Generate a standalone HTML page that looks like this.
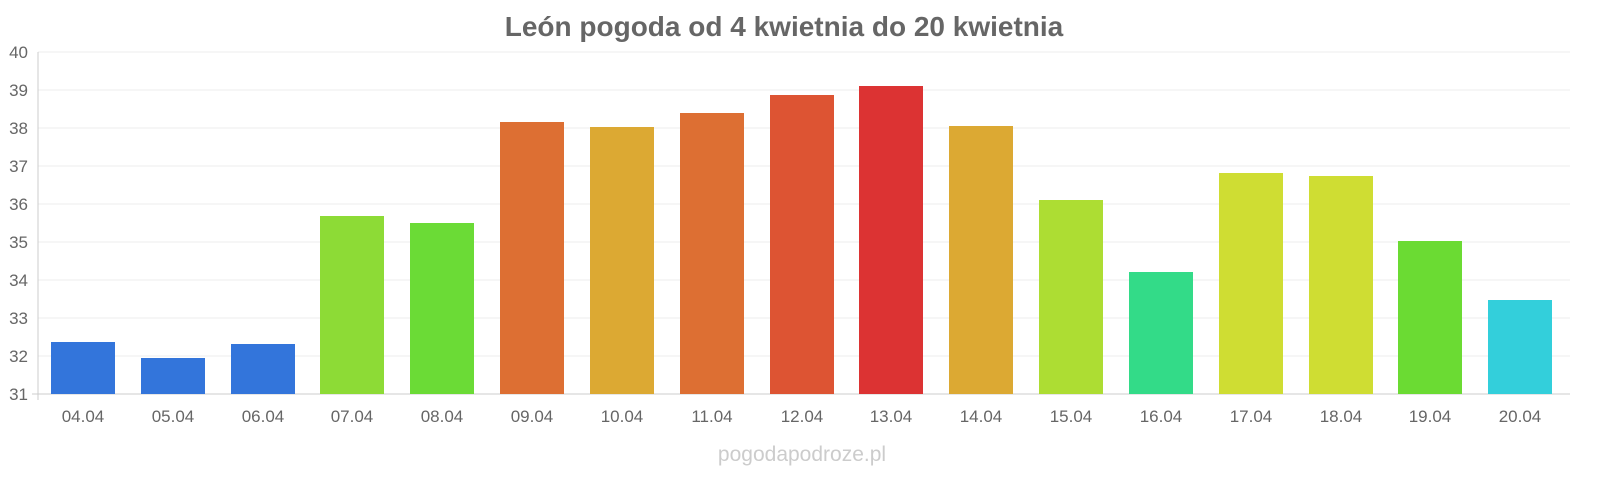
<!DOCTYPE html>
<html><head><meta charset="utf-8"><style>body{margin:0;background:#fff}svg{display:block}</style></head><body>
<svg width="1600" height="480" xmlns="http://www.w3.org/2000/svg" font-family="Liberation Sans, sans-serif">
<text x="784" y="36" text-anchor="middle" font-size="28" font-weight="bold" fill="#666">León pogoda od 4 kwietnia do 20 kwietnia</text>
<g stroke="#eee" stroke-width="1">
<line x1="38" x2="1570" y1="52" y2="52"/><line x1="38" x2="1570" y1="90" y2="90"/><line x1="38" x2="1570" y1="128" y2="128"/><line x1="38" x2="1570" y1="166" y2="166"/><line x1="38" x2="1570" y1="204" y2="204"/><line x1="38" x2="1570" y1="242" y2="242"/><line x1="38" x2="1570" y1="280" y2="280"/><line x1="38" x2="1570" y1="318" y2="318"/><line x1="38" x2="1570" y1="356" y2="356"/>
</g>
<line x1="38" x2="38" y1="52" y2="400" stroke="#ccc"/>
<line x1="32" x2="1570" y1="394" y2="394" stroke="#ccc"/>
<g font-size="17" fill="#666" text-anchor="end">
<text x="28" y="58">40</text><text x="28" y="96">39</text><text x="28" y="134">38</text><text x="28" y="172">37</text><text x="28" y="210">36</text><text x="28" y="248">35</text><text x="28" y="286">34</text><text x="28" y="324">33</text><text x="28" y="362">32</text><text x="28" y="400">31</text>
</g>
<g>
<rect x="51" y="342" width="64" height="52" fill="#3375db"/>
<rect x="141" y="358" width="64" height="36" fill="#3375db"/>
<rect x="231" y="344" width="64" height="50" fill="#3375db"/>
<rect x="320" y="216" width="64" height="178" fill="#8ddb36"/>
<rect x="410" y="223" width="64" height="171" fill="#6bdb36"/>
<rect x="500" y="122" width="64" height="272" fill="#dd6f33"/>
<rect x="590" y="127" width="64" height="267" fill="#dca933"/>
<rect x="680" y="113" width="64" height="281" fill="#dd6f33"/>
<rect x="770" y="95" width="64" height="299" fill="#dd5433"/>
<rect x="859" y="86" width="64" height="308" fill="#dc3333"/>
<rect x="949" y="126" width="64" height="268" fill="#dca933"/>
<rect x="1039" y="200" width="64" height="194" fill="#addd33"/>
<rect x="1129" y="272" width="64" height="122" fill="#33db88"/>
<rect x="1219" y="173" width="64" height="221" fill="#cfdd33"/>
<rect x="1309" y="176" width="64" height="218" fill="#cfdd33"/>
<rect x="1398" y="241" width="64" height="153" fill="#6bdb33"/>
<rect x="1488" y="300" width="64" height="94" fill="#33cfdb"/>
</g>
<g font-size="17" fill="#666" text-anchor="middle">
<text x="83" y="422">04.04</text><text x="173" y="422">05.04</text><text x="263" y="422">06.04</text><text x="352" y="422">07.04</text><text x="442" y="422">08.04</text><text x="532" y="422">09.04</text><text x="622" y="422">10.04</text><text x="712" y="422">11.04</text><text x="802" y="422">12.04</text><text x="891" y="422">13.04</text><text x="981" y="422">14.04</text><text x="1071" y="422">15.04</text><text x="1161" y="422">16.04</text><text x="1251" y="422">17.04</text><text x="1341" y="422">18.04</text><text x="1430" y="422">19.04</text><text x="1520" y="422">20.04</text>
</g>
<text x="802" y="461" text-anchor="middle" font-size="21" fill="#ccc">pogodapodroze.pl</text>
</svg>
</body></html>
